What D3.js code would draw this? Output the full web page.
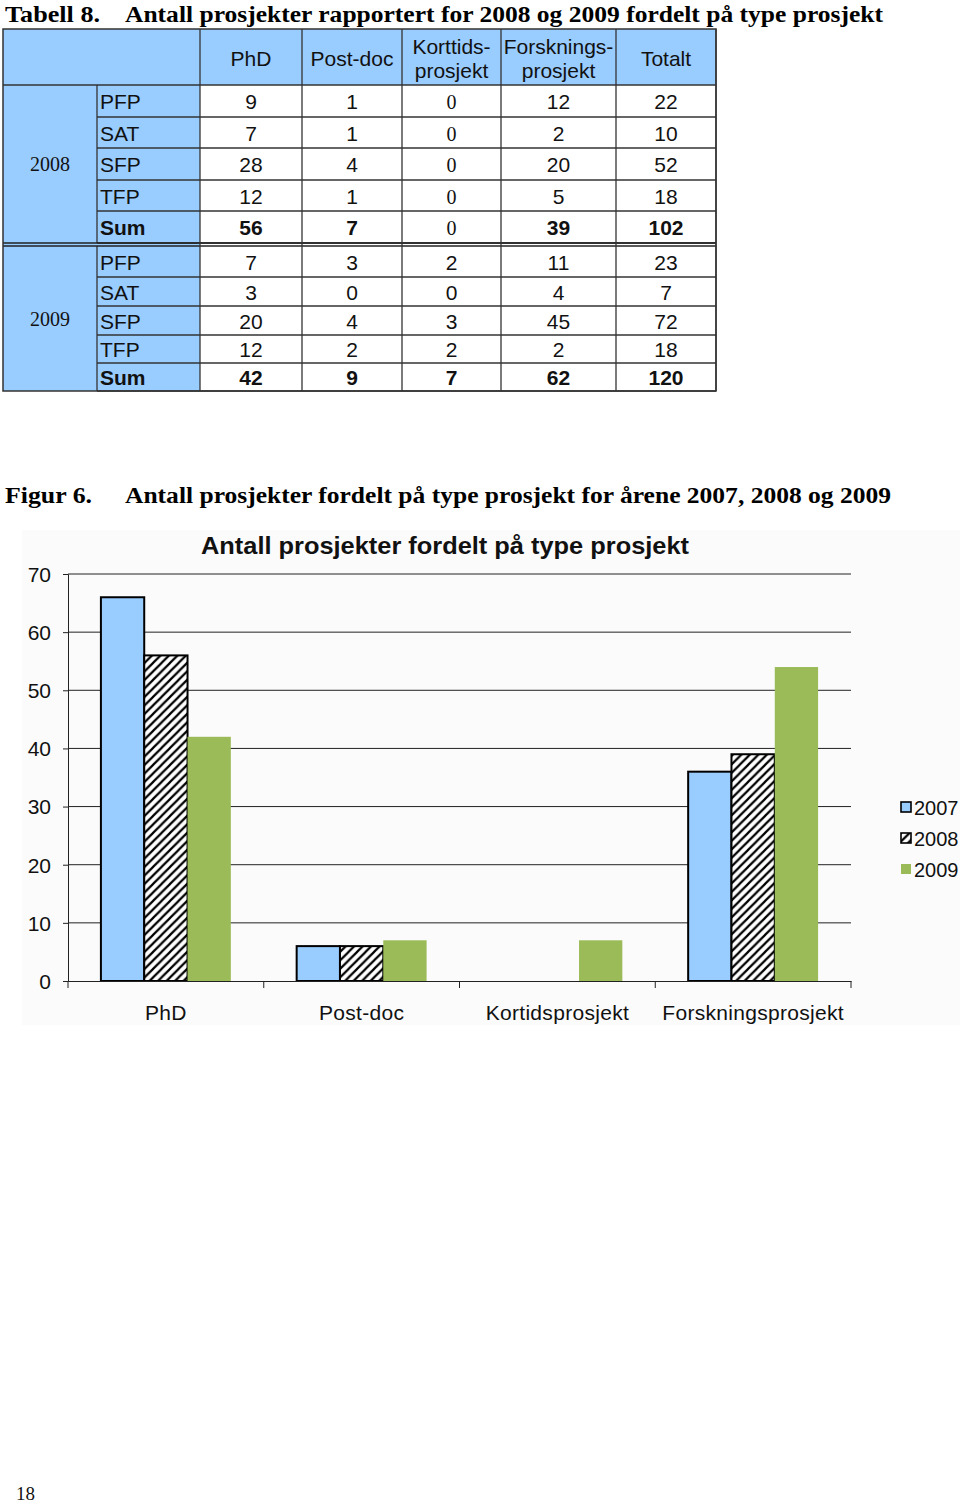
<!DOCTYPE html>
<html><head><meta charset="utf-8">
<script src="https://cdn.jsdelivr.net/npm/d3@7"></script>
<style>body{margin:0;background:#fff}svg{display:block}</style>
</head><body>
<svg id="c" width="960" height="1504"></svg>
<script>
// ---- Table data ----
const tableColumns = ["PhD", "Post-doc", "Korttids-|prosjekt", "Forsknings-|prosjekt", "Totalt"];
const tableYears = ["2008", "2009"];
const rowLabels = ["PFP", "SAT", "SFP", "TFP", "Sum"];
const values2008 = [[9,1,0,12,22],[7,1,0,2,10],[28,4,0,20,52],[12,1,0,5,18],[56,7,0,39,102]];
const values2009 = [[7,3,2,11,23],[3,0,0,4,7],[20,4,3,45,72],[12,2,2,2,18],[42,9,7,62,120]];

// ---- Chart data ----
const categories = ["PhD", "Post-doc", "Kortidsprosjekt", "Forskningsprosjekt"];
const years = ["2007", "2008", "2009"];
const series2007 = [66, 6, 0, 36];
const series2008 = [56, 6, 0, 39];
const series2009 = [42, 7, 7, 54];
const yTicks = [0, 10, 20, 30, 40, 50, 60, 70];

const svg = d3.select("#c");
const BLUE = "#99ccff", GREEN = "#9bbb59";
const SANS = "Arial, 'Liberation Sans', sans-serif";
const SERIF = "'Times New Roman', 'Liberation Serif', serif";

// ---- Captions ----
function caption(x, y, txt, w, size) {
  svg.append("text").attr("x", x).attr("y", y).attr("font-family", SERIF)
    .attr("font-weight", "bold").attr("font-size", size).attr("fill", "#000")
    .attr("textLength", w).attr("lengthAdjust", "spacingAndGlyphs").text(txt);
}
caption(5, 22, "Tabell 8.", 95, 24);
caption(125, 22, "Antall prosjekter rapportert for 2008 og 2009 fordelt på type prosjekt", 758, 24);
caption(5, 503, "Figur 6.", 87, 24);
caption(125, 503, "Antall prosjekter fordelt på type prosjekt for årene 2007, 2008 og 2009", 766, 24);

// ---- Table ----
const colEdges = [3, 97, 200, 302, 402, 501, 616, 716];
const headerTop = 29, headerBottom = 85;
const blockRows = [[85,117,148,180,211,243],[246,277,306,335,363,391]];
const tbl = svg.append("g");

tbl.append("rect").attr("x", 3).attr("y", headerTop).attr("width", 713).attr("height", headerBottom - headerTop).attr("fill", BLUE);
tbl.append("rect").attr("x", 3).attr("y", headerBottom).attr("width", 197).attr("height", 391 - headerBottom).attr("fill", BLUE);

tableColumns.forEach((c, i) => {
  const cx = (colEdges[i + 2] + colEdges[i + 3]) / 2;
  const parts = c.split("|");
  const t = tbl.append("text").attr("text-anchor", "middle").attr("font-family", SANS).attr("font-size", 21).attr("fill", "#111");
  if (parts.length === 1) t.attr("x", cx).attr("y", 66).text(parts[0]);
  else {
    t.append("tspan").attr("x", cx).attr("y", 54).text(parts[0]);
    t.append("tspan").attr("x", cx).attr("y", 78).text(parts[1]);
  }
});

[values2008, values2009].forEach((vals, b) => {
  const ys = blockRows[b];
  const top = ys[0], bottom = ys[ys.length - 1];
  tbl.append("text").attr("x", 50).attr("y", (top + bottom) / 2 + 7).attr("text-anchor", "middle")
    .attr("font-family", SERIF).attr("font-size", 20).attr("fill", "#111").text(tableYears[b]);
  rowLabels.forEach((r, ri) => {
    const y0 = ys[ri], y1 = ys[ri + 1];
    const base = (y0 + y1) / 2 + 8;
    const bold = r === "Sum";
    tbl.append("text").attr("x", 100).attr("y", base).attr("font-family", SANS).attr("font-size", 21)
      .attr("font-weight", bold ? "bold" : "normal").attr("fill", "#111").text(r);
    vals[ri].forEach((v, ci) => {
      const cx = (colEdges[ci + 2] + colEdges[ci + 3]) / 2;
      const serif = b === 0 && ci === 2;
      tbl.append("text").attr("x", cx).attr("y", base).attr("text-anchor", "middle")
        .attr("font-family", serif ? SERIF : SANS).attr("font-size", serif ? 20 : 21)
        .attr("font-weight", bold && !serif ? "bold" : "normal").attr("fill", "#111").text(v);
    });
    tbl.append("line").attr("x1", 97).attr("x2", 716).attr("y1", y1).attr("y2", y1).attr("stroke", "#333").attr("stroke-width", 1.3);
  });
  tbl.append("line").attr("x1", 97).attr("x2", 97).attr("y1", top).attr("y2", bottom).attr("stroke", "#333").attr("stroke-width", 1.3);
});
[243, 246].forEach(y => tbl.append("line").attr("x1", 3).attr("x2", 716).attr("y1", y).attr("y2", y).attr("stroke", "#222").attr("stroke-width", 1.3));
colEdges.slice(2).forEach(x => tbl.append("line").attr("x1", x).attr("x2", x).attr("y1", headerTop).attr("y2", 391).attr("stroke", "#333").attr("stroke-width", 1.3));
tbl.append("line").attr("x1", 3).attr("x2", 716).attr("y1", headerBottom).attr("y2", headerBottom).attr("stroke", "#333").attr("stroke-width", 1.3);
tbl.append("rect").attr("x", 3).attr("y", headerTop).attr("width", 713).attr("height", 391 - headerTop)
  .attr("fill", "none").attr("stroke", "#333").attr("stroke-width", 1.5);

// ---- Chart ----
svg.append("rect").attr("x", 22).attr("y", 530).attr("width", 938).attr("height", 495).attr("fill", "#fbfbfb");

const defs = svg.append("defs");
const T = 8.5;
const pat = defs.append("pattern").attr("id", "hatch").attr("patternUnits", "userSpaceOnUse")
  .attr("width", T).attr("height", T);
pat.append("rect").attr("width", T).attr("height", T).attr("fill", "#fff");
pat.append("path").attr("d", `M-1,${T+1} L${T+1},-1 M-${T/2},${T/2} L${T/2},-${T/2} M${T/2},${T*1.5} L${T*1.5},${T/2}`)
  .attr("stroke", "#000").attr("stroke-width", 2.2);

const x = d3.scaleBand().domain(categories).range([68, 851]).paddingInner(0).paddingOuter(0);
const xi = d3.scaleBand().domain(years).range([0, x.bandwidth()]).paddingInner(0).paddingOuter(0.76);
const y = d3.scaleLinear().domain([0, 70]).range([981, 574]);

const g = svg.append("g");
g.selectAll(".grid").data(yTicks.slice(1)).join("line")
  .attr("x1", 68).attr("x2", 851).attr("y1", d => y(d)).attr("y2", d => y(d))
  .attr("stroke", "#222").attr("stroke-width", 1);

const yAxis = d3.axisLeft(y).tickValues(yTicks).tickSize(5).tickPadding(12);
const ya = g.append("g").attr("transform", "translate(68,0)").call(yAxis);
ya.select(".domain").attr("stroke", "#222");
ya.selectAll(".tick line").attr("stroke", "#222");
ya.selectAll("text").attr("font-family", SANS).attr("font-size", 21).attr("fill", "#111").attr("dy", "0.35em");

const seriesList = [series2007, series2008, series2009];
const fills = [BLUE, "url(#hatch)", GREEN];
const strokes = ["#000", "#000", "none"];
years.forEach((yr, si) => {
  g.append("g").selectAll("rect")
    .data(categories.map((c, i) => ({ c, v: seriesList[si][i] })).filter(d => d.v > 0))
    .join("rect")
    .attr("x", d => x(d.c) + xi(yr))
    .attr("y", d => y(d.v))
    .attr("width", xi.bandwidth())
    .attr("height", d => y(0) - y(d.v))
    .attr("fill", fills[si])
    .attr("stroke", strokes[si]).attr("stroke-width", 2);
});

const xAxis = d3.axisBottom(x).tickSize(0).tickPadding(24);
const xa = g.append("g").attr("transform", "translate(0,981)").call(xAxis);
xa.select(".domain").attr("stroke", "#222");
xa.selectAll("text").attr("font-family", SANS).attr("font-size", 21).attr("fill", "#111").attr("letter-spacing", "0.3");
const bounds = categories.map(c => x(c)).concat([x(categories[categories.length - 1]) + x.bandwidth()]);
g.selectAll(".xt").data(bounds).join("line")
  .attr("x1", d => d).attr("x2", d => d).attr("y1", 981).attr("y2", 988).attr("stroke", "#222");

svg.append("text").attr("x", 445).attr("y", 554).attr("text-anchor", "middle")
  .attr("font-family", SANS).attr("font-size", 24).attr("font-weight", 600).attr("fill", "#111")
  .attr("textLength", 488).attr("lengthAdjust", "spacingAndGlyphs")
  .text("Antall prosjekter fordelt på type prosjekt");

const leg = svg.append("g");
years.forEach((yr, i) => {
  const ly = 808 + i * 31;
  leg.append("rect").attr("x", 901).attr("y", ly - 6).attr("width", 10).attr("height", 10)
    .attr("fill", i === 1 ? "url(#hatch)" : fills[i]).attr("stroke", strokes[i]).attr("stroke-width", 1.6);
  leg.append("text").attr("x", 914).attr("y", ly + 7).attr("font-family", SANS).attr("font-size", 20)
    .attr("fill", "#111").text(yr);
});

svg.append("text").attr("x", 16).attr("y", 1500).attr("font-family", SERIF).attr("font-size", 19).attr("fill", "#111").text("18");
</script>
</body></html>
